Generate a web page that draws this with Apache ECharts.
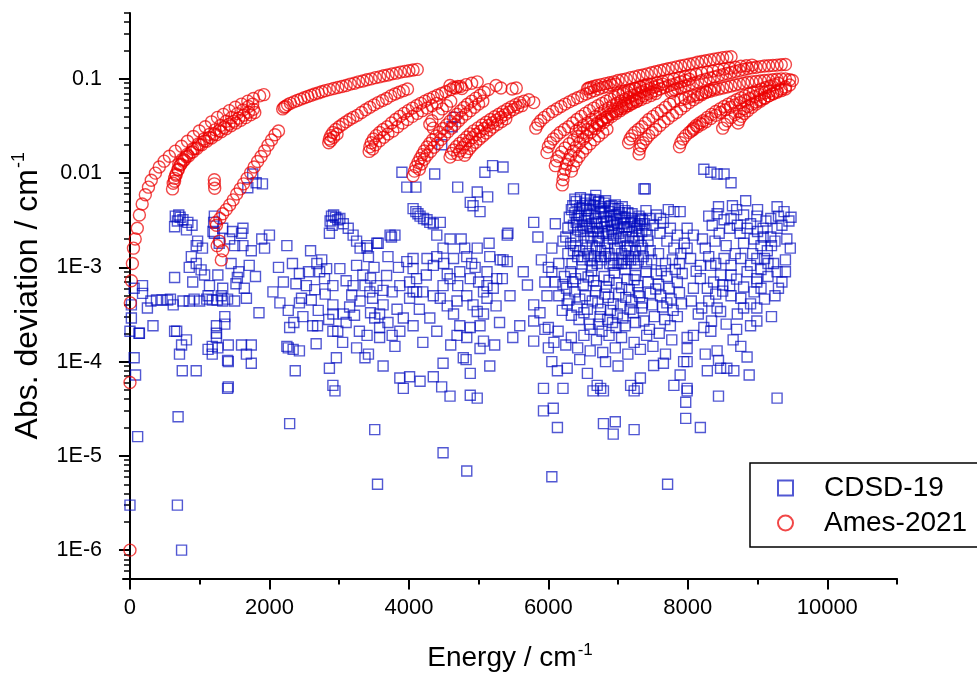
<!DOCTYPE html>
<html>
<head>
<meta charset="utf-8">
<script src="https://cdn.jsdelivr.net/npm/echarts@6/dist/echarts.min.js"></script>
<style>html,body{margin:0;padding:0;background:#fff}#c{width:977px;height:677px}</style>
</head>
<body>
<div id="c"></div>
<script>
// ---------- axis ticks ----------
const xMajorTicks = [0, 2000, 4000, 6000, 8000, 10000];
const xMinorTicks = [1000, 3000, 5000, 7000, 9000, 11000];
const yMajorTicks = [1e-6, 1e-5, 1e-4, 1e-3, 0.01, 0.1];
const yMinorTicks = [5e-7,6e-7,7e-7,8e-7,9e-7,
  2e-6,3e-6,4e-6,5e-6,6e-6,7e-6,8e-6,9e-6,
  2e-5,3e-5,4e-5,5e-5,6e-5,7e-5,8e-5,9e-5,
  2e-4,3e-4,4e-4,5e-4,6e-4,7e-4,8e-4,9e-4,
  2e-3,3e-3,4e-3,5e-3,6e-3,7e-3,8e-3,9e-3,
  0.02,0.03,0.04,0.05,0.06,0.07,0.08,0.09,
  0.2,0.3,0.4,0.5];

// ---------- CDSD-19 (energy cm-1, abs deviation cm-1) ----------
const cdsdLow = [
[0,3e-6],[680,3e-6],[740,1e-6],[110,1.6e-5],[690,2.6e-5],[1410,5.4e-5],[80,7.2e-5],[60,1.1e-4],[750,8e-5],[950,8e-5],[710,1.2e-4],[740,1.5e-4],[810,1.7e-4],[1120,1.35e-4],[1180,1.2e-4],[1260,1.4e-4],[1410,1.5e-4],[1410,1e-4],[1600,1.5e-4],[1670,1.2e-4],[1740,1.5e-4],[1740,9.6e-5],[135,2e-4],[640,2.1e-4],[1240,2e-4],
[650,0.0035],[700,0.0036],[760,0.0032],[830,0.003],[890,0.0028],[810,0.0025],[640,0.0027],[680,0.0031],[720,0.0034],[1210,0.0035],[1210,0.0023],[1200,0.003],
[640,7.8e-4],[950,0.0017],[970,0.0019],[880,0.0013],[950,0.0011],[850,0.001],[1040,0.0016],[1020,9.4e-4],[1070,8.3e-4],[1260,8.3e-4],[1330,6e-4],[1280,0.0018],[1430,0.002],[1500,0.0017],[1600,0.0023],[1620,0.0017],[1710,0.00105],[1740,0.0015],[1890,0.002],[1930,0.0016],[1540,7.8e-4],[1520,6.7e-4],[1640,6e-4],[1670,4.7e-4],[1500,4.4e-4],[1140,6.4e-4],[1120,5e-4],[1310,5e-4],[1330,4.4e-4],[1000,4.4e-4],[850,4.4e-4],[760,4.4e-4],[620,4e-4],[460,4.5e-4],[380,4.5e-4],[250,3.7e-4],[180,6.4e-4],[180,5.3e-4],[20,4e-4],[20,2.9e-4],[0,2.1e-4],[130,2e-4],[330,2.4e-4],[670,2.1e-4],[1240,1.8e-4],[1240,2.4e-4],[1360,3e-4],[1360,2.5e-4],[1400,5.2e-5],[1400,1.03e-4],[1180,1.45e-4],
[1760,0.0098],[1810,0.0079],[1900,0.0077],[1690,0.007],
[540,4.5e-4],[580,4.6e-4],[300,4.4e-4],[1100,4.6e-4],[1180,4.5e-4],[1250,4.5e-4],[1400,4.6e-4],[920,4.6e-4],[60,6e-4],[1330,0.0026],[1470,0.0024],[1620,0.0026],[1190,0.0024],[900,7e-4],[1450,1.1e-3],[1560,9e-4],[1800,8e-4],[1850,3.3e-4]
];
const cdsdMid = [
[2000,0.0022],[2250,0.0017],[2050,5.5e-4],[2270,3.5e-4],[2290,2.3e-4],[2250,1.45e-4],[2270,1.4e-4],[2340,1.35e-4],[2370,8e-5],[2290,2.2e-5],[2430,8.6e-4],[2530,6.4e-4],[2460,4.7e-4],[2430,4.2e-4],[2620,2.4e-4],[2670,1.55e-4],[2720,9e-4],[2790,7.6e-4],[2860,8.5e-5],[2940,4.9e-5],[2910,5.6e-5],
[2890,0.0035],[2920,0.0036],[2950,0.0034],[2980,0.0032],[3010,0.0033],[3060,0.0029],[3130,0.0026],[3200,0.0022],[3400,0.0017],[3540,0.0018],[3420,0.0013],[3730,0.0022],[2860,0.0023],[2870,0.0031],[2900,0.0028],[3250,0.0019],[3300,0.0016],
[2820,9.7e-4],[3010,9.7e-4],[2910,6.4e-4],[2910,4e-4],[2910,3.2e-4],[3060,3.2e-4],[3150,3.8e-4],[3250,1.05e-3],[3200,6.4e-4],[3340,8.3e-4],[3370,6.4e-4],[3440,5.5e-4],[3480,4.7e-4],[3540,6.4e-4],[3630,5.7e-4],[3630,4e-4],[3580,3.2e-4],[3510,2.9e-4],[3580,2.3e-4],[3580,1.8e-4],[3420,1.2e-4],[3370,1.1e-4],[3630,9e-5],[3800,1.45e-4],[3870,2.1e-4],[3920,2.9e-4],[3870,6.7e-5],[3510,1.9e-5],[3970,1.15e-3],[3800,0.0022],[2430,1.3e-4],[2690,2.4e-4],[2910,2.1e-4],[2980,2.1e-4],[3290,2.1e-4],[2960,1.1e-4],[3550,5e-6],
[3900,0.0102],[3970,0.0071],[3750,0.0021],[3560,0.0018],[3400,0.0016],
[2130,1.0e-3],[2200,7e-4],[2330,1.1e-3],[2380,6.7e-4],[2480,3e-4],[2560,9e-4],[2600,4.5e-4],[2650,5.8e-4],[2700,3.5e-4],[2750,1.2e-3],[2800,5.2e-4],[2850,2.8e-4],[2350,2.6e-4],[2150,4.2e-4],[2590,1.5e-3],[2680,1.1e-3],[3100,7.2e-4],[3180,5.1e-4],[3100,2.6e-4],[3220,3.1e-4],[3300,4.4e-4],[3450,7.7e-4],[3500,1.0e-3],[3680,8.2e-4],[3700,1.3e-3],[3760,5.5e-4],[3830,3.6e-4],[3850,1.0e-3],[3700,2.6e-4],[3760,1.9e-4],[3400,1.9e-4],[3450,3.3e-4],[3050,1.6e-4],[3250,1.4e-4]
];
const cdsdUpper = [
[4060,0.0042],[4100,0.0039],[4130,0.0037],[4160,0.0035],[4210,0.0033],[4260,0.0032],[4300,0.003],[4350,0.0029],[4450,0.003],[4400,0.0022],[4590,0.002],[4490,0.0016],[4980,0.0016],[5160,0.0013],[5350,0.0012],[5410,0.0022],[5790,0.003],[4060,0.00124],[4060,9.7e-4],[4260,0.00124],[4350,0.00105],[4640,0.00124],[4730,9e-4],[4880,7.6e-4],[4830,0.0013],[5120,9e-4],[5260,7.6e-4],[3870,6.4e-4],[4010,7e-4],[4110,5.5e-4],[4200,5.5e-4],[4350,5e-4],[4450,4.7e-4],[4490,6.4e-4],[4590,7.6e-4],[4690,4.4e-4],[4830,5e-4],[4920,4e-4],[5070,5.5e-4],[5120,4.7e-4],[5210,6e-4],[4640,3.2e-4],[4730,2.4e-4],[4690,1.9e-4],[4830,1.8e-4],[4880,2.3e-4],[5020,2.4e-4],[4980,3.4e-4],[5070,3.2e-4],[5070,1.65e-4],[5020,1.38e-4],[4780,1.1e-4],[4820,1.05e-4],[4490,9.6e-5],[4880,7.5e-5],[5160,9e-5],[4980,4.1e-5],[4880,4.4e-5],[4590,4.3e-5],[4160,6.2e-5],[4010,6.9e-5],[3920,5.2e-5],[4350,6.9e-5],[4470,5.4e-5],[4490,1.08e-5],[4830,6.9e-6],[5590,2.4e-4],[5490,1.8e-4],[5640,9e-4],[5410,1.15e-3],[5790,4e-4],[5790,2.7e-4],[5790,1.65e-4],[5930,5.2e-5],[5930,3e-5],[6070,3.2e-5],[6130,2e-5],[6210,5.2e-5],[6050,1e-4],[6130,8e-5],[4060,2.4e-4],[4060,5.5e-4],[4110,7.6e-4],[4010,4.7e-4],
[4100,0.0071],[4370,0.0098],[4700,0.0071],[5090,0.0102],[5200,0.012],[5350,0.0116],[4980,0.0063],[5130,0.0056],[4880,0.0049],[4920,0.0045],[5020,0.0039],[5500,0.0068],[5420,0.0023],[5310,0.0012],[5340,7.6e-4],[5120,6.4e-4],[4660,0.039],[4620,0.031],[4470,0.02],
[4250,8.3e-4],[4150,3.6e-4],[4300,2.9e-4],[4400,2.1e-4],[4200,1.6e-4],[4550,3.9e-4],[4600,1.5e-4],[4700,6.4e-4],[4950,1.0e-3],[5000,7e-4],[5150,1.8e-3],[5250,3.9e-4],[5300,2.6e-4],[5230,1.5e-4],[4750,2.0e-3],[4800,1.6e-3],[4900,1.1e-3],[4400,1.3e-3],[4500,1.1e-3],[4550,8.5e-4],[5450,5e-4],[5850,2.1e-3],[5900,1.2e-3],[5950,7e-4],[5980,5e-4],[5880,3.3e-4],[5950,2.2e-4],[6000,1.4e-4],[5700,6.5e-4],[6000,1e-3],[6100,2.9e-3],[6050,1.6e-3],[6150,1.1e-3],[6050,6e-6]
];
const cdsdDense = [
[6210,0.0019],[6350,0.0045],[6380,0.0038],[6400,0.003],[6420,0.0025],[6450,0.0042],[6470,0.0035],[6490,0.0028],[6510,0.0022],[6530,0.0048],[6550,0.004],[6570,0.0033],[6590,0.0027],[6610,0.0021],[6630,0.0017],[6650,0.0045],[6670,0.0037],[6690,0.003],[6710,0.0024],[6730,0.0019],[6750,0.0015],[6770,0.0042],[6790,0.0034],[6810,0.0027],[6830,0.0022],[6850,0.0018],[6870,0.0039],[6890,0.0031],[6910,0.0025],[6930,0.002],[6950,0.0016],[6970,0.0036],[6990,0.0029],[7010,0.0023],[7030,0.0019],[7050,0.0014],[7070,0.0033],[7090,0.0027],[7110,0.0021],[7130,0.0017],[7150,0.0013],[7180,0.003],[7200,0.0024],[7230,0.0019],[7250,0.0015],[7280,0.0028],[7300,0.0022],[7330,0.0017],[7360,0.0013],[7400,0.0025],[7430,0.0019],[7460,0.0015],[6300,0.0034],[6280,0.0026],[6250,0.0021],[6320,0.0018],[6360,0.0015],[6420,0.0013],[6480,0.0012],[6540,0.0016],[6600,0.0012],[6660,0.0013],[6700,0.0011],[6760,0.0012],[6820,0.0013],[6880,0.0011],[6940,0.0012],[7000,0.0011],[7060,0.0012],[7120,0.0011],[7180,0.0012],[7240,0.0011],[6400,0.005],[6460,0.0055],[6600,0.0052],[6680,0.0058],[6720,0.005],[6800,0.0048],[6900,0.0045],[7000,0.0042],[7100,0.004],[7200,0.0037],[7300,0.0035],[7350,0.0032],
[6380,0.0053],[6550,0.0053],[6720,0.0049],[6410,0.0033],[6550,0.0042],[6750,0.0039],[6940,0.0042],[6940,0.003],[7320,0.0033],[7370,0.0068],[7610,0.0033],[7890,0.0039],[7990,0.0026],[8080,0.0022]
];
const cdsdDense2 = [
[6330,0.0041],[6360,0.0028],[6390,0.0021],[6430,0.0036],[6460,0.0024],[6490,0.0045],[6520,0.0031],[6540,0.0026],[6560,0.0019],[6580,0.0036],[6600,0.0046],[6620,0.0029],[6640,0.0024],[6660,0.0052],[6680,0.0033],[6700,0.0026],[6720,0.0021],[6740,0.0044],[6760,0.0029],[6780,0.0023],[6800,0.0038],[6820,0.0051],[6840,0.0031],[6860,0.0024],[6880,0.0044],[6900,0.0035],[6920,0.0028],[6940,0.0022],[6960,0.0046],[6980,0.0032],[7000,0.0026],[7020,0.0038],[7040,0.0021],[7060,0.0044],[7080,0.0029],[7100,0.0034],[7120,0.0025],[7140,0.0038],[7160,0.0027],[7190,0.0033],[7210,0.0021],[7240,0.0031],[7260,0.0026],[7290,0.0019],[7310,0.0029],[7340,0.0024],[7380,0.0029],[7420,0.0022],
[6280,0.0014],[6340,0.0011],[6390,0.0017],[6450,0.0015],[6510,0.0013],[6570,0.0014],[6630,0.00105],[6690,0.0016],[6750,0.0013],[6810,0.0016],[6870,0.0014],[6930,0.00105],[6990,0.0016],[7050,0.0011],[7110,0.0015],[7170,0.0016],[7230,0.0013],[7290,0.0012],[7350,0.0016],[7410,0.0011],
[6210,6.6e-4],[6270,4.1e-4],[6330,3.1e-4],[6390,7.6e-4],[6450,4.6e-4],[6510,3.3e-4],[6570,7.9e-4],[6630,4.4e-4],[6690,6.4e-4],[6750,3.6e-4],[6810,5.2e-4],[6870,7.3e-4],[6930,4.1e-4],[6990,3.2e-4],[7050,6.1e-4],[7110,4.8e-4],[7170,3.6e-4],[7230,7.4e-4],[7290,5.4e-4],[7350,4.2e-4],[6600,2.2e-4],[6720,2.5e-4],[6850,2.8e-4],[6970,2.3e-4],[7100,2.4e-4],[7250,2.6e-4]
];
const cdsdHigh = [
[6050,9e-4],[6100,7e-4],[6150,5e-4],[6200,3.5e-4],[6230,8e-4],[6260,6e-4],[6290,4.5e-4],[6320,9e-4],[6350,7e-4],[6380,5.5e-4],[6410,3.8e-4],[6440,2.8e-4],[6470,8.5e-4],[6500,6.5e-4],[6530,5e-4],[6560,3.6e-4],[6590,2.5e-4],[6620,9.2e-4],[6650,7.2e-4],[6680,5.6e-4],[6710,4.2e-4],[6740,3e-4],[6770,2.1e-4],[6800,8e-4],[6830,6.2e-4],[6860,4.8e-4],[6890,3.5e-4],[6920,2.6e-4],[6950,8.8e-4],[6980,6.8e-4],[7010,5.2e-4],[7040,3.9e-4],[7070,2.9e-4],[7100,9.5e-4],[7130,7.5e-4],[7160,5.8e-4],[7190,4.4e-4],[7220,3.3e-4],[7250,8.2e-4],[7280,6.4e-4],[7310,4.9e-4],[7340,3.7e-4],[7370,2.7e-4],[7400,9e-4],[7430,7e-4],[7460,5.3e-4],[7490,4e-4],[7520,3e-4],[7550,8.5e-4],[7580,6.6e-4],[7610,5e-4],[7640,3.8e-4],[7670,2.8e-4],[7700,8e-4],[7730,6e-4],[7760,4.6e-4],[7790,3.5e-4],[7820,9.5e-4],[7850,7e-4],[7880,5.4e-4],[7910,4.1e-4],
[6000,2.3e-4],[6080,1.6e-4],[6140,2.1e-4],[6250,1.5e-4],[6330,1.8e-4],[6420,1.4e-4],[6510,1.9e-4],[6600,1.3e-4],[6690,1.7e-4],[6780,1.25e-4],[6870,1.9e-4],[6960,1.4e-4],[7050,1.8e-4],[7140,1.2e-4],[7230,1.6e-4],[7320,1.35e-4],[7410,1.9e-4],[7500,1.45e-4],[7590,2e-4],[7680,1.2e-4],[7770,1.7e-4],[6450,1.05e-4],[6820,1.0e-4],[7000,9e-5],
[7400,0.004],[7450,0.0033],[7500,0.0028],[7550,0.0036],[7600,0.0023],[7650,0.003],[7700,0.0019],[7750,0.0026],[7800,0.0016],[7850,0.0022],[7900,0.0014],[7950,0.0018],[7480,0.0012],[7580,0.0014],[7680,0.0011],[7780,0.0012],[7880,0.0011],[7720,0.0041],[7800,0.0039],
[6560,7.5e-5],[6640,4.9e-5],[6790,4.9e-5],[6790,2.2e-5],[6930,1.7e-5],[6960,2.3e-5],[7230,1.9e-5],[7280,5.2e-5],[7320,6.7e-5],[7230,4.9e-5],[6700,5.6e-5],[6750,5.2e-5],[7180,5.6e-5],[7510,9.1e-5],[7650,9.6e-5],[7940,1e-4],[7890,7.2e-5],[7970,3.7e-5],[7970,2.5e-5],[7800,5.6e-5],[7990,5.2e-5],[7710,5e-6],[6270,8.5e-5],[7390,0.0068]
];
const cdsdRight = [
[8230,0.011],[8330,0.0102],[8420,0.0098],[8520,0.0098],[8620,0.0079],[8830,0.0051],[8440,0.0044],[8640,0.0045],[8420,0.0037],[8520,0.0032],[8620,0.0033],[8710,0.0028],[8900,0.0029],[8990,0.0035],[9080,0.0026],[9190,0.0033],[9280,0.0044],[9380,0.0039],[9480,0.0034],[9280,0.0026],[9190,0.0021],[9080,0.0021],[8950,0.002],[8390,0.0019],[8210,0.002],[7990,0.0016],[8040,0.00124],[8180,0.00105],[8330,0.00105],[8520,0.00124],[8620,0.00105],[8760,0.00124],[8900,0.00105],[8990,0.00124],[9140,0.0015],[9100,0.00124],[9230,0.0011],[9400,9e-4],[9280,9e-4],[8990,7.6e-4],[8850,9e-4],[8620,8.3e-4],[8470,8.3e-4],[8370,7e-4],[8180,7.6e-4],[8080,6e-4],[8280,6e-4],[8620,5e-4],[8760,4.7e-4],[8950,5.5e-4],[8990,7e-4],[8420,3.7e-4],[8470,3.4e-4],[8710,3.2e-4],[8990,3.7e-4],[8900,2.4e-4],[8990,2.7e-4],[8330,2.1e-4],[8230,2.3e-4],[8080,1.9e-4],[8250,1.2e-4],[8420,1.3e-4],[8440,1.03e-4],[8280,8e-5],[8470,8.5e-5],[8660,8e-5],[8560,8.5e-5],[8760,1.45e-4],[8850,1.12e-4],[8880,7.2e-5],[8440,4.3e-5],[9280,4.1e-5],[7990,1e-4],[7990,4.9e-5],[8180,2e-5],[7990,1.8e-4],[7990,1.38e-4],
[8300,0.0035],[8350,0.0028],[8700,0.0041],[8800,0.0036],[9000,0.0041],[9350,0.0028],[9450,0.0031],[9200,0.0017],[9400,0.0012],[9300,6e-4],[9100,4.6e-4],[9200,3e-4],[8550,2.5e-4],[8650,1.7e-4],[8300,4.4e-4],[8500,6.5e-4],[8700,7.5e-4],[9050,9.5e-4],
[7450,2.2e-4],[7540,5.9e-4],[7620,9.2e-4],[7700,4.2e-4],[7750,2.4e-4],[7850,3e-4],[7920,8.6e-4],[8050,4.4e-4],[8120,9.1e-4],[8150,3.2e-4],[8250,1.6e-3],[8300,1.3e-3],[8400,1.1e-3],[8450,2.3e-3],[8550,1.7e-3],[8600,2.6e-3],[8680,1.4e-3],[8750,2.3e-3],[8800,1.8e-3],[8850,2.6e-3],[8930,1.4e-3],[9000,2.4e-3],[9050,1.7e-3],[9120,3.1e-3],[9150,1.1e-3],[9250,1.9e-3],[9300,3.5e-3],[9420,2.0e-3],[9470,1.6e-3],[8500,5.6e-4],[8600,6.4e-4],[8800,6.2e-4],[8900,4.1e-4],[9050,6e-4],[9150,8e-4],[9250,5e-4],[9350,7e-4],[8400,5.2e-4],[8200,3.7e-4],[8340,2.7e-4],[8700,2.2e-4],[8800,3.7e-4]
];

// ---------- Ames-2021 arcs ----------
const amesArcA = [[0,1e-6],[0,6e-5],[5,4.2e-4],[20,7.2e-4],[35,1.1e-3],[50,1.6e-3],[75,2.0e-3],[105,2.6e-3],[135,3.6e-3],[175,4.7e-3],[220,5.9e-3],[265,7.1e-3],[305,8.4e-3],[365,0.01],[420,0.0116],[490,0.0134],[565,0.0151],[650,0.0171],[740,0.0193],[825,0.0218],[910,0.0245],[995,0.028],[1080,0.031],[1170,0.035],[1255,0.039],[1340,0.042],[1425,0.046],[1510,0.05],[1600,0.054],[1690,0.058],[1770,0.062],[1860,0.066],[1920,0.068]];
const amesArcB1 = [[610,0.0068],[620,0.0078],[640,0.0088],[660,0.0098],[690,0.011],[730,0.0124],[780,0.0138],[840,0.0152],[900,0.0168],[960,0.0183],[1030,0.02],[1100,0.0218],[1170,0.0236],[1240,0.0255],[1310,0.0275],[1380,0.0296],[1450,0.0318],[1520,0.034],[1590,0.0363],[1660,0.0388],[1730,0.0415],[1790,0.044]];
const amesArcB2 = [[640,0.0082],[660,0.0095],[690,0.0108],[720,0.0121],[760,0.0134],[810,0.0149],[870,0.0165],[930,0.0182],[1000,0.02],[1070,0.0219],[1140,0.0239],[1210,0.026],[1280,0.0282],[1350,0.0305],[1420,0.033],[1490,0.0356],[1560,0.0383],[1630,0.0412],[1700,0.0443],[1770,0.0475]];
const amesArcB3 = [[700,0.0125],[750,0.014],[820,0.0158],[900,0.018],[980,0.0204],[1060,0.023],[1140,0.0258],[1220,0.0288],[1300,0.032],[1380,0.0355],[1460,0.039],[1540,0.0428],[1620,0.0468],[1700,0.051],[1760,0.054]];
const amesArcC = [[1210,0.0085],[1210,0.0077],[1215,0.0069],[1230,0.003],[1240,0.0028],[1280,0.0019],[1250,0.0017],[1330,0.0015],[1310,0.0012],[1290,0.0033],[1330,0.0037],[1380,0.0041],[1430,0.0046],[1480,0.0052],[1530,0.006],[1580,0.0068],[1630,0.0077],[1680,0.0088],[1730,0.0101],[1780,0.0116],[1830,0.0133],[1880,0.015],[1930,0.0172],[1980,0.0198],[2030,0.0225],[2080,0.0255],[2130,0.028]];
const amesArcD = [[2190,0.048],[2210,0.05],[2230,0.051],[2260,0.053],[2300,0.055],[2350,0.057],[2400,0.059],[2450,0.061],[2500,0.063],[2550,0.065],[2600,0.067],[2650,0.069],[2700,0.071],[2750,0.073],[2800,0.075],[2860,0.077],[2920,0.079],[2980,0.081],[3040,0.083],[3100,0.085],[3160,0.088],[3220,0.09],[3280,0.093],[3340,0.095],[3400,0.098],[3460,0.1],[3520,0.103],[3580,0.105],[3640,0.108],[3700,0.11],[3760,0.113],[3820,0.115],[3880,0.118],[3940,0.12],[4000,0.122],[4060,0.124],[4120,0.126]];
const amesArcE = [[2850,0.021],[2860,0.023],[2880,0.025],[2910,0.027],[2950,0.029],[3000,0.031],[3050,0.033],[3100,0.035],[3150,0.037],[3200,0.039],[3260,0.041],[3320,0.044],[3380,0.047],[3440,0.05],[3500,0.053],[3560,0.056],[3620,0.059],[3680,0.062],[3740,0.066],[3800,0.069],[3860,0.072],[3920,0.075],[3980,0.078],[2880,0.022],[2920,0.024],[2970,0.026]];
const amesArcF = [[3430,0.017],[3440,0.019],[3460,0.021],[3490,0.023],[3530,0.025],[3580,0.027],[3630,0.029],[3690,0.031],[3750,0.034],[3810,0.037],[3870,0.04],[3930,0.043],[3990,0.046],[4050,0.049],[4110,0.052],[4170,0.055],[4230,0.058],[4290,0.061],[4350,0.064],[4410,0.067],[4470,0.07],[4530,0.073],[4600,0.077],[4670,0.08],[4740,0.083],[4820,0.087],[4900,0.09],[4980,0.093]];
const amesArcF2 = [[3480,0.018],[3520,0.02],[3580,0.022],[3640,0.024],[3700,0.026],[3770,0.028],[3840,0.031],[3910,0.034],[3980,0.037],[4050,0.04],[4120,0.043],[4190,0.046],[4260,0.049],[4330,0.052],[4400,0.055]];
const amesArcG = [[4060,0.0094],[4080,0.0105],[4100,0.0117],[4130,0.013],[4160,0.0143],[4190,0.0157],[4220,0.0172],[4260,0.0189],[4300,0.0207],[4340,0.0226],[4390,0.0248],[4440,0.0272],[4490,0.0298],[4540,0.0325],[4590,0.0355],[4640,0.0387],[4690,0.0421],[4740,0.0458],[4790,0.0497],[4840,0.0538],[4900,0.058],[4960,0.0625],[5020,0.067],[5080,0.072],[5140,0.077],[4330,0.036],[4300,0.033],[4350,0.03],[4420,0.043],[4480,0.048],[4540,0.052],[4600,0.058],[4640,0.081],[4590,0.085],[4700,0.083],[4760,0.079],[5250,0.085],[5320,0.08],[5480,0.078],[5540,0.08]];
const amesArcG2 = [[4150,0.011],[4180,0.0125],[4220,0.014],[4260,0.0155],[4310,0.017],[4360,0.0188],[4410,0.0207],[4460,0.0228],[4510,0.025],[4560,0.0274],[4610,0.03],[4660,0.0328],[4710,0.0358],[4760,0.039],[4820,0.0424],[4880,0.046],[4940,0.05],[5000,0.054],[5060,0.058]];
const amesArcH1 = [[4590,0.0148],[4610,0.0162],[4640,0.0176],[4680,0.0191],[4730,0.0207],[4780,0.0224],[4830,0.0242],[4880,0.0261],[4930,0.0281],[4990,0.0302],[5050,0.0324],[5110,0.0347],[5170,0.0371],[5230,0.0396],[5290,0.0422],[5350,0.0449],[5410,0.0477],[5470,0.0505],[5530,0.0533],[5590,0.056],[5650,0.058],[5720,0.06],[5790,0.056]];
const amesArcH2 = [[4800,0.0155],[4830,0.0168],[4870,0.0182],[4910,0.0197],[4960,0.0213],[5010,0.023],[5060,0.0248],[5110,0.0267],[5160,0.0287],[5210,0.0308],[5270,0.033],[5330,0.0353],[5390,0.0377]];
const amesArcH3 = [[4700,0.0158],[4730,0.0172],[4770,0.0187],[4810,0.0203],[4860,0.022],[4910,0.0238],[4960,0.0257],[5020,0.0277],[5080,0.0298],[5140,0.032],[5200,0.0343],[5260,0.0367],[5320,0.0392],[5380,0.0418],[5440,0.0445],[5500,0.0473],[5560,0.05],[5620,0.052]];
const amesArcJ = [[6560,0.078],[6580,0.08],[6610,0.081],[6650,0.083],[6700,0.085],[6760,0.087],[6820,0.089],[6880,0.091],[6940,0.093],[7000,0.096],[7060,0.098],[7120,0.1],[7180,0.103],[7240,0.105],[7300,0.108],[7360,0.11],[7420,0.113],[7480,0.116],[7540,0.119],[7600,0.122],[7660,0.125],[7720,0.128],[7780,0.131],[7840,0.134],[7900,0.137],[7960,0.14],[8020,0.143],[8080,0.146],[8140,0.15],[8200,0.153],[8260,0.156],[8320,0.159],[8380,0.162],[8440,0.165],[8500,0.168],[8560,0.17],[8620,0.172]];
const amesArcK = [[5820,0.03],[5850,0.033],[5890,0.036],[5940,0.039],[6000,0.042],[6060,0.045],[6120,0.048],[6180,0.051],[6240,0.054],[6300,0.057],[6360,0.06],[6420,0.063],[6480,0.066],[6540,0.069],[6600,0.072],[6660,0.075],[6720,0.078],[6780,0.081],[6840,0.083],[6900,0.086],[6960,0.088]];
const amesArcL = [[5980,0.0165],[6000,0.019],[6030,0.021],[6070,0.023],[6120,0.025],[6170,0.027],[6230,0.029],[6290,0.031],[6350,0.034],[6410,0.037],[6470,0.04],[6530,0.043],[6590,0.046],[6650,0.049],[6710,0.052],[6770,0.055],[6830,0.058],[6890,0.061],[6950,0.064],[7010,0.067],[7070,0.07],[7130,0.073],[7190,0.076],[7250,0.079],[7310,0.082],[7370,0.085],[7430,0.088]];
const amesArcM = [[6200,0.0075],[6210,0.0085],[6220,0.0097],[6240,0.011],[6260,0.0124],[6290,0.0139],[6320,0.0155],[6360,0.0172],[6400,0.019],[6450,0.021],[6500,0.023],[6550,0.025],[6610,0.0272],[6670,0.0295],[6730,0.032],[6790,0.0345],[6850,0.037],[6910,0.04],[6970,0.043],[7030,0.046],[7090,0.049],[7150,0.052],[7210,0.055],[7270,0.058]];
const amesArcM2 = [[6330,0.0105],[6360,0.012],[6400,0.0135],[6440,0.015],[6490,0.0167],[6540,0.0185],[6600,0.0205],[6660,0.0226],[6720,0.0248],[6780,0.027],[6840,0.0293]];
const amesArcN1 = [[7300,0.016],[7310,0.018],[7330,0.0195],[7360,0.021],[7400,0.023],[7440,0.025],[7490,0.027],[7540,0.029],[7600,0.032],[7660,0.035],[7720,0.038],[7780,0.041],[7840,0.044],[7900,0.048],[7960,0.052],[8020,0.056],[8080,0.06],[8140,0.064],[8200,0.068],[8260,0.072],[8320,0.076],[8380,0.08]];
const amesArcN2 = [[7150,0.021],[7170,0.023],[7200,0.025],[7240,0.027],[7290,0.029],[7340,0.031],[7390,0.034],[7440,0.037],[7500,0.04],[7560,0.043],[7620,0.046],[7680,0.05],[7740,0.054],[7800,0.058]];
const amesArcO = [[7760,0.072],[7780,0.075],[7810,0.077],[7850,0.079],[7900,0.081],[7960,0.084],[8020,0.087],[8080,0.09],[8140,0.093],[8200,0.096],[8260,0.099],[8320,0.102],[8380,0.105],[8440,0.108],[8500,0.111],[8560,0.114],[8620,0.117],[8680,0.12],[8740,0.123],[8800,0.126],[8860,0.129],[8920,0.131],[8980,0.133],[9040,0.135],[9100,0.137],[9160,0.138],[9220,0.139],[9280,0.14],[9340,0.141],[9400,0.142]];
const amesArcO2 = [[7900,0.06],[7960,0.062],[8020,0.064],[8080,0.066],[8140,0.068],[8200,0.07],[8260,0.072],[8320,0.074],[8380,0.076],[8440,0.078],[8500,0.08],[8560,0.082],[8620,0.084],[8680,0.086],[8740,0.088],[8800,0.09],[8860,0.092],[8920,0.093],[8980,0.094],[9040,0.095],[9100,0.096],[9160,0.097],[9220,0.098],[9280,0.099],[9340,0.1],[9400,0.1],[9460,0.098],[9500,0.096]];
const amesArcP1 = [[8050,0.028],[8080,0.03],[8120,0.032],[8170,0.034],[8220,0.036],[8280,0.039],[8340,0.042],[8400,0.045],[8460,0.048],[8520,0.051],[8580,0.054],[8640,0.057],[8700,0.06],[8760,0.063],[8820,0.066],[8880,0.069],[8940,0.072],[9000,0.075],[9060,0.078],[9120,0.081],[9180,0.084],[9240,0.087],[9300,0.09]];
const amesArcP2 = [[8500,0.03],[8530,0.033],[8570,0.036],[8620,0.039],[8680,0.042],[8740,0.045],[8800,0.048],[8860,0.051],[8920,0.054],[8980,0.057],[9040,0.06],[9100,0.063],[9160,0.066],[9220,0.069],[9280,0.072],[9340,0.075],[9400,0.078]];
const amesArcQ1 = [[6400,0.028],[6450,0.03],[6500,0.032],[6560,0.034],[6620,0.037],[6680,0.04],[6740,0.043],[6800,0.046],[6860,0.049],[6920,0.052],[6980,0.055],[7040,0.058],[7100,0.061],[7160,0.064],[7220,0.067],[7280,0.07],[7340,0.073],[7400,0.076],[7460,0.079],[7520,0.082],[7580,0.085],[7640,0.088]];
const amesArcQ2 = [[6700,0.033],[6760,0.036],[6820,0.039],[6880,0.042],[6940,0.045],[7000,0.048],[7060,0.051],[7120,0.054],[7180,0.057],[7240,0.06],[7300,0.063],[7360,0.066],[7420,0.069],[7480,0.072],[7540,0.075],[7600,0.078],[7660,0.081],[7720,0.084],[7780,0.087],[7840,0.09],[7900,0.093],[7960,0.096],[8020,0.099]];
const amesArcR1 = [[6100,0.012],[6120,0.0135],[6150,0.015],[6190,0.0167],[6240,0.0185],[6300,0.0205],[6360,0.0225],[6420,0.0245],[6490,0.0268],[6560,0.029],[6630,0.0315],[6700,0.034],[6770,0.0368],[6840,0.0395],[6910,0.0425],[6980,0.0455],[7050,0.0485],[7120,0.0515],[7190,0.0545],[7260,0.0575],[7330,0.0605],[7400,0.0635],[7470,0.0665],[7540,0.07]];
const amesArcR2 = [[7880,0.019],[7900,0.021],[7930,0.023],[7970,0.025],[8020,0.027],[8080,0.029],[8140,0.031],[8200,0.033],[8260,0.035],[8330,0.038],[8400,0.041],[8470,0.044],[8540,0.047],[8610,0.05],[8680,0.053],[8750,0.056],[8820,0.059],[8890,0.062],[8960,0.065],[9030,0.068],[9100,0.071],[9170,0.074]];
const amesArcR3 = [[8720,0.034],[8740,0.037],[8770,0.04],[8810,0.043],[8860,0.046],[8920,0.05],[8980,0.054],[9040,0.058],[9100,0.062],[9160,0.066],[9220,0.07],[9280,0.074],[9340,0.078],[9400,0.082],[9460,0.086]];
const amesArcR4 = [[7000,0.07],[7080,0.073],[7160,0.076],[7240,0.079],[7320,0.082],[7400,0.085],[7480,0.088],[7560,0.091],[7640,0.094],[7720,0.097],[7800,0.1],[7880,0.103],[7960,0.106],[8040,0.109],[8120,0.112],[8200,0.115],[8280,0.118],[8360,0.121],[8440,0.124],[8520,0.127],[8600,0.13],[8680,0.133],[8760,0.136],[8840,0.138],[8920,0.14]];

const cdsdData = [].concat(cdsdLow, cdsdMid, cdsdUpper, cdsdDense, cdsdDense2, cdsdHigh, cdsdRight);
const amesData = [].concat(amesArcA, amesArcB1, amesArcB2, amesArcB3, amesArcC, amesArcD, amesArcE, amesArcF, amesArcF2,
  amesArcG, amesArcG2, amesArcH1, amesArcH2, amesArcH3, amesArcJ, amesArcK, amesArcL, amesArcM, amesArcM2, amesArcN1, amesArcN2,
  amesArcO, amesArcO2, amesArcP1, amesArcP2, amesArcQ1, amesArcQ2, amesArcR1, amesArcR2, amesArcR3, amesArcR4);

const FONT = '"Liberation Sans", Arial, sans-serif';
const chart = echarts.init(document.getElementById('c'), null, {renderer: 'canvas'});
const axisLineStyle = {color: '#000', width: 2};

chart.setOption({
  animation: false,
  backgroundColor: '#fff',
  grid: {left: 123, right: 80, top: 13, bottom: 95, containLabel: false},
  legend: {
    orient: 'vertical',
    left: 750, top: 463,
    padding: [11, 40, 10, 27],
    itemGap: 7,
    itemWidth: 15, itemHeight: 15,
    borderColor: '#000', borderWidth: 1.5, borderRadius: 0,
    textStyle: {fontFamily: FONT, fontSize: 28, color: '#000', lineHeight: 28, padding: [0, 0, 0, 26]},
    data: ['CDSD-19', 'Ames-2021']
  },
  xAxis: [{
    type: 'value', min: -100, max: 11000, position: 'bottom',
    name: '{a|Energy / cm}{s|-1}', nameLocation: 'middle', nameGap: 63,
    nameTextStyle: {rich: {
      a: {fontFamily: FONT, fontSize: 28, color: '#000'},
      s: {fontFamily: FONT, fontSize: 17, color: '#000', padding: [0, 0, 16, 1]}
    }},
    axisLine: {show: true, lineStyle: axisLineStyle},
    axisTick: {show: true, inside: false, length: 11, lineStyle: {color: '#000', width: 2}, customValues: xMajorTicks},
    axisLabel: {show: true, margin: 18, fontFamily: FONT, fontSize: 22, color: '#000', customValues: xMajorTicks,
      formatter: function (v) { return String(Math.round(v)); }},
    splitLine: {show: false}
  }, {
    type: 'value', min: -100, max: 11000, position: 'bottom', gridIndex: 0,
    axisLine: {show: false},
    axisTick: {show: true, inside: false, length: 6, lineStyle: {color: '#000', width: 2}, customValues: xMinorTicks},
    axisLabel: {show: false},
    splitLine: {show: false}
  }],
  yAxis: [{
    type: 'log', logBase: 10, min: 5e-7, max: 0.5, position: 'left',
    name: '{a|Abs. deviation / cm}{s|-1}', nameLocation: 'middle', nameGap: 77, nameRotate: 90,
    nameTextStyle: {rich: {
      a: {fontFamily: FONT, fontSize: 32, color: '#000'},
      s: {fontFamily: FONT, fontSize: 18, color: '#000', padding: [0, 0, 18, 1]}
    }},
    axisLine: {show: true, lineStyle: axisLineStyle},
    axisTick: {show: true, inside: false, length: 11, lineStyle: {color: '#000', width: 2}, customValues: yMajorTicks},
    axisLabel: {show: true, margin: 21, fontFamily: FONT, fontSize: 21.5, color: '#000', customValues: yMajorTicks,
      formatter: function (v) {
        const e = Math.round(Math.log10(v));
        if (e >= -2) return e === -1 ? '0.1' : '0.01';
        return '1E' + e;
      }},
    splitLine: {show: false}
  }, {
    type: 'log', logBase: 10, min: 5e-7, max: 0.5, position: 'left', gridIndex: 0,
    axisLine: {show: false},
    axisTick: {show: true, inside: false, length: 6, lineStyle: {color: '#000', width: 1.5}, customValues: yMinorTicks},
    axisLabel: {show: false},
    splitLine: {show: false}
  }],
  series: [{
    name: 'CDSD-19', type: 'scatter', xAxisIndex: 0, yAxisIndex: 0,
    symbol: 'rect', symbolSize: 10,
    itemStyle: {color: 'rgba(0,0,0,0)', borderColor: 'rgba(0,10,190,0.85)', borderWidth: 1.4},
    data: cdsdData
  }, {
    name: 'Ames-2021', type: 'scatter', xAxisIndex: 0, yAxisIndex: 0,
    symbol: 'circle', symbolSize: 12,
    itemStyle: {color: 'rgba(0,0,0,0)', borderColor: 'rgba(235,0,0,0.9)', borderWidth: 1.4},
    data: amesData
  }]
});
</script>
</body>
</html>
